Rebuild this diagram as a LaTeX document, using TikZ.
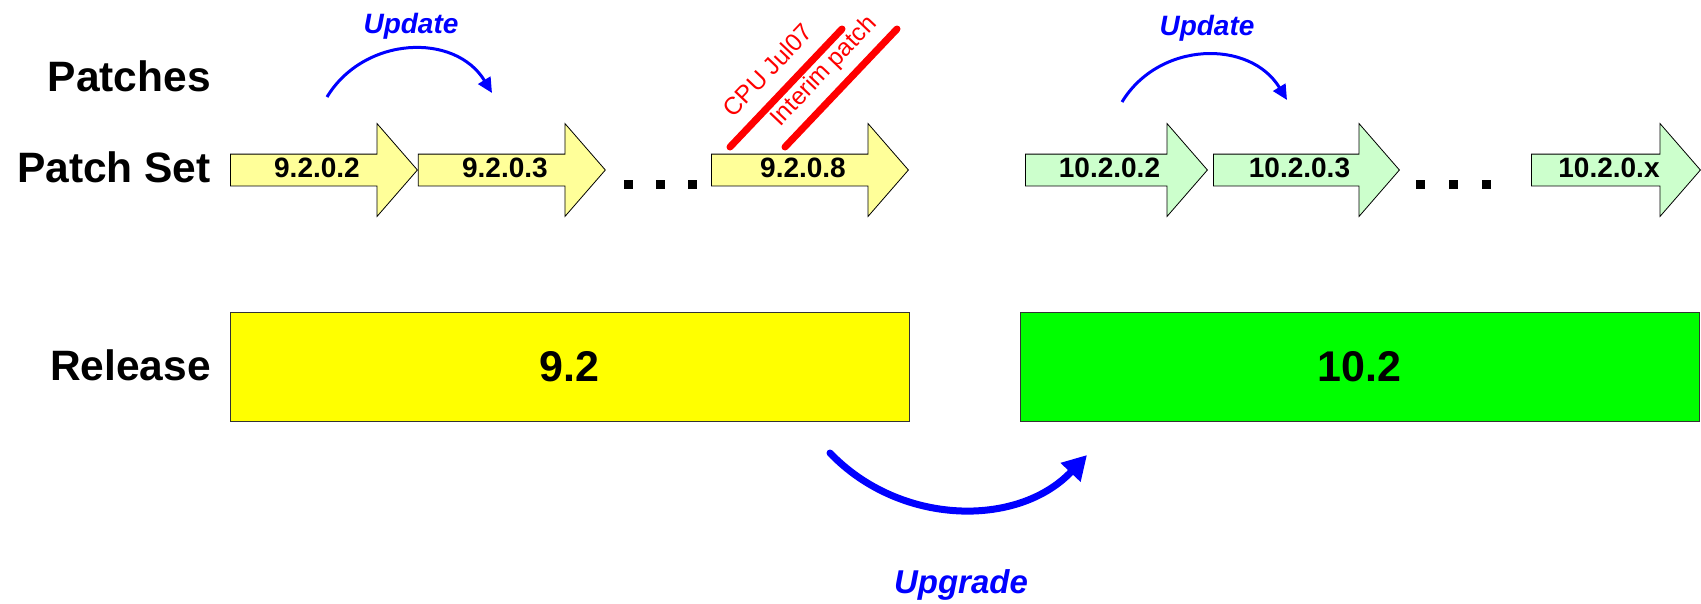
\documentclass[tikz,border=0pt]{standalone}
\usepackage{fontspec}
\setmainfont{Liberation Sans}
\usepackage{tikz}
\usetikzlibrary{shapes.arrows,arrows.meta,positioning}

\definecolor{paleyellow}{HTML}{FFFF99}
\definecolor{palegreen}{HTML}{CCFFCC}
\definecolor{relyellow}{HTML}{FFFF00}
\definecolor{relgreen}{HTML}{00FF00}

\begin{document}
\begin{tikzpicture}[x=1pt,y=-1pt]
\tikzset{
  patcharrow/.style={single arrow,draw=black,line width=0.8pt,
    single arrow head extend=30.5pt,single arrow tip angle=98,
    single arrow head indent=0pt,inner xsep=0pt,inner ysep=2.5pt,
    text height=20pt,text depth=6pt,minimum height=187pt,
    font=\fontsize{28}{30}\selectfont\bfseries},
  oldpatch/.style={patcharrow,fill=paleyellow},
  newpatch/.style={patcharrow,fill=palegreen},
  relbox/.style={rectangle,draw=black!80,line width=1pt,
    minimum width=679pt,minimum height=109pt,
    font=\fontsize{43}{50}\selectfont\bfseries},
  rowlabel/.style={anchor=base east,inner sep=0pt,
    font=\fontsize{42.5}{50}\selectfont\bfseries},
  dotsq/.style={rectangle,fill=black,minimum size=9pt,inner sep=0pt},
  redbar/.style={red,line width=7pt,line cap=round},
  redlabel/.style={red,anchor=base,inner sep=0pt,rotate=46.5,
    font=\fontsize{24.5}{30}\selectfont},
  arclabel/.style={blue,anchor=base,inner sep=0pt,
    font=\fontsize{28}{34}\selectfont\bfseries\itshape},
  updatearc/.style={blue,line width=3pt,-{Triangle[length=15pt,width=14pt]}},
  upgradearc/.style={blue,line width=7pt,line cap=round,
    -{Triangle[length=24pt,width=26pt]}}
}
\useasboundingbox (0,0) rectangle (1701,603);

% row titles
\node[rowlabel] (patches) at (211,91) {Patches};
\node[rowlabel] (patchset) at (211,182) {Patch Set};
\node[rowlabel] (release) at (211,380) {Release};

% 9.2 patch sets
\node[oldpatch,anchor=tail] (p1) at (230,170) {9.2.0.2};
\node[oldpatch,anchor=tail] (p2) at (p1.tip) {9.2.0.3};
\foreach \x [count=\i] in {628,660,692}
  \node[dotsq] (da\i) at (\x,184) {};
\node[oldpatch,anchor=tail,minimum height=197pt] (p3) at (711,170) {9.2.0.8};

% 10.2 patch sets
\node[newpatch,anchor=tail,minimum height=182pt] (q1) at (1025,170) {10.2.0.2};
\node[newpatch,anchor=tail,minimum height=186pt] (q2) at (1213,170) {10.2.0.3};
\foreach \x [count=\i] in {1420,1453,1486}
  \node[dotsq] (db\i) at (\x,184) {};
\node[newpatch,anchor=tail,minimum height=169pt] (q3) at (1531,170) {10.2.0.x};

% releases
\node[relbox,fill=relyellow] (r1) at (569.5,366.5) {9.2};
\node[relbox,fill=relgreen] (r2) at (1359.5,366.5) {10.2};

% interim fixes on 9.2.0.8
\coordinate (c1a) at (730,147);
\coordinate (c1b) at (842,29);
\coordinate (c2a) at (785,147);
\coordinate (c2b) at (897,29);
\draw[redbar] (c1a) -- (c1b);
\draw[redbar] (c2a) -- (c2b);
\node[redlabel] (cpu) at (774,76) {CPU Jul07};
\node[redlabel] (interim) at (829,76) {Interim patch};

% update arcs
\coordinate (u1s) at (327,97);
\coordinate (u1e) at (492,93);
\draw[updatearc] (u1s) .. controls (364,36) and (455,32) .. (u1e);
\node[arclabel] (upd1) at (411,33) {Update};
\coordinate (u2s) at (1122,102);
\coordinate (u2e) at (1287,100);
\draw[updatearc] (u2s) .. controls (1159,41) and (1250,39) .. (u2e);
\node[arclabel] (upd2) at (1207,35) {Update};

% upgrade arc
\coordinate (gs) at (830,453);
\coordinate (ge) at (1087,455);
\draw[upgradearc] (gs) .. controls (900,526) and (1018,528) .. (ge);
\node[arclabel,font=\fontsize{33}{40}\selectfont\bfseries\itshape] (upg) at (961,593) {Upgrade};
\end{tikzpicture}
\end{document}
